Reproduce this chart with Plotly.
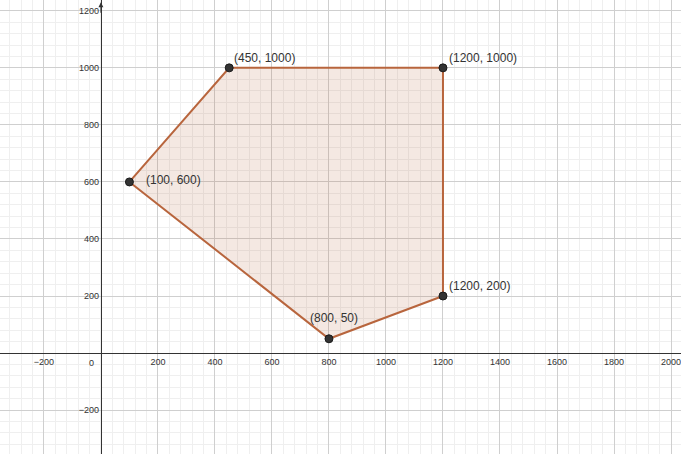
import plotly.graph_objects as go

# Polygon vertices (x, y)
vx = [100, 450, 1200, 1200, 800]
vy = [600, 1000, 1000, 200, 50]
vlabels = ["(100, 600)", "(450, 1000)", "(1200, 1000)", "(1200, 200)", "(800, 50)"]

xticks = [-200, 200, 400, 600, 800, 1000, 1200, 1400, 1600, 1800, 2000]
yticks = [-200, 200, 400, 600, 800, 1000, 1200]

xmin, xmax = -354, 2035
ymin, ymax = -354, 1238

# label placement (styles only): anchor, xshift, yshift in pixels
lab_style = [("left", 15, 2), ("left", 3, 10), ("left", 4, 10), ("left", 4, 10), ("center", 5, 21)]

edge = "#b8653d"
fig = go.Figure()
fig.add_trace(go.Scatter(
    x=vx + [vx[0]], y=vy + [vy[0]], mode="lines", fill="toself",
    fillcolor="rgba(184,101,61,0.15)", line=dict(color=edge, width=2),
    hoverinfo="skip", showlegend=False))
fig.add_trace(go.Scatter(
    x=vx, y=vy, mode="markers",
    marker=dict(size=8, color="#333333", line=dict(color="#1a1a1a", width=1)),
    showlegend=False))

xpos = (0 - ymin) / (ymax - ymin)
ypos = (0 - xmin) / (xmax - xmin)

axis_common = dict(
    showgrid=True, gridcolor="#cfcfcf", gridwidth=1,
    zeroline=False, showline=True, linecolor="#333333", linewidth=1,
    ticks="", tickfont=dict(family="Liberation Sans, Arial", size=9, color="#333333"),
    tickmode="array", ticklabeloverflow="allow",
)

annotations = []
for x, y, t, (anc, dx, dy) in zip(vx, vy, vlabels, lab_style):
    annotations.append(dict(x=x, y=y, text=t, showarrow=False, xanchor=anc, yanchor="middle",
                            xshift=dx, yshift=dy,
                            font=dict(family="Liberation Sans, Arial", size=12, color="#333333")))
annotations += [
    dict(x=0, y=0, text="0", showarrow=False, xanchor="right", yanchor="top",
         xshift=-5, yshift=-3, font=dict(family="Liberation Sans, Arial", size=9, color="#333333")),
    dict(x=0, y=ymax - 8, ax=0, ay=12, axref="pixel", ayref="pixel", text="",
         showarrow=True, arrowhead=2, arrowsize=1, arrowwidth=1, arrowcolor="#333333"),
]

fig.update_layout(
    width=681, height=454, margin=dict(l=0, r=0, t=0, b=0, pad=0, autoexpand=False),
    paper_bgcolor="white", plot_bgcolor="white",
    font=dict(family="Liberation Sans, Arial"),
    xaxis=dict(range=[xmin, xmax], tickvals=xticks, anchor="free", position=xpos,
               minor=dict(tick0=0, dtick=40, showgrid=True, gridcolor="#efefef"),
               **axis_common),
    yaxis=dict(range=[ymin, ymax], tickvals=yticks, anchor="free", position=ypos,
               minor=dict(tick0=0, dtick=40, showgrid=True, gridcolor="#efefef"),
               **axis_common),
    annotations=annotations,
)

fig.write_html("out.html", config={"displayModeBar": False},
               post_script="document.body.style.margin='0px';document.body.style.overflow='hidden';")
